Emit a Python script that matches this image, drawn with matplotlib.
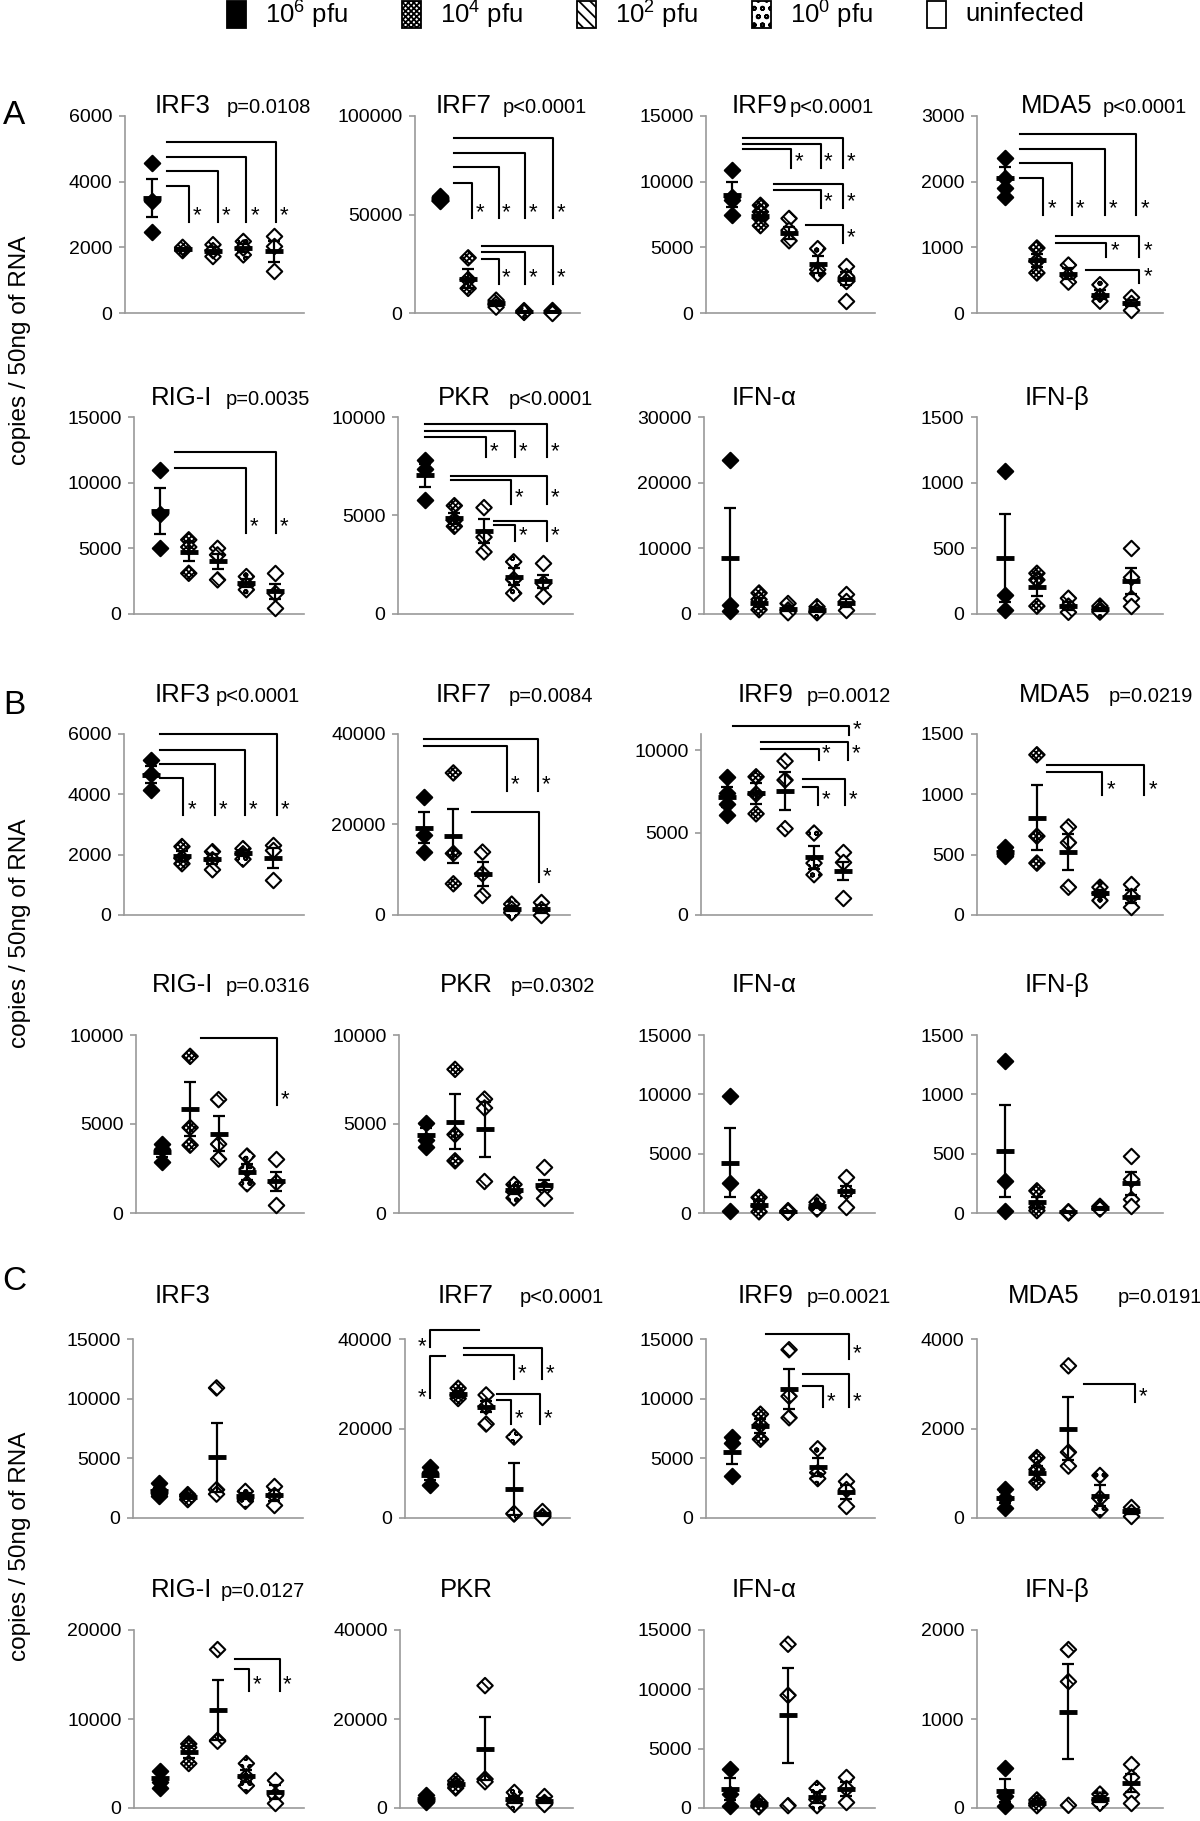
import numpy as np
import matplotlib
matplotlib.use("Agg")
from matplotlib import pyplot as plt
from matplotlib.patches import Rectangle

plt.rcParams["font.family"] = ["Liberation Sans", "DejaVu Sans"]
plt.rcParams["mathtext.fontset"] = "custom"
plt.rcParams["mathtext.rm"] = "Liberation Sans"
plt.rcParams["hatch.linewidth"] = 1.3

W, H = 1200, 1821

# groups
grupos = [r"10$^6$ pfu", r"10$^4$ pfu", r"10$^2$ pfu", r"10$^0$ pfu", "uninfected"]

# ---------------- A ----------------
A_IRF3 = [[4560, 3420, 2480], [1950, 1900, 2000], [2080, 1720, 1900], [2180, 1770, 1980], [2330, 2030, 1270]]
A_IRF3_MEAN = [3500, 1950, 1900, 1980, 1880]
A_IRF3_SEM = [590, 40, 100, 120, 320]
A_IRF3_BR = [(1.5, 2.2, 3870, 2770), (1.5, 3.15, 4340, 2770), (1.5, 4.1, 4740, 2770), (1.5, 5.07, 5200, 2770)]

A_IRF7 = [[59500, 57500, 57000], [28000, 17000, 12500], [6500, 4500, 3000], [1200, 600, 300], [1500, 600, 100]]
A_IRF7_MEAN = [58000, 17500, 5000, 700, 700]
A_IRF7_SEM = [800, 4700, 1200, 300, 400]
A_IRF7_BR = [(1.5, 2.15, 66000, 48000), (1.5, 3.1, 74000, 48000), (1.5, 4.05, 81000, 48000), (1.5, 5.05, 89000, 48000),
             (2.5, 3.1, 27600, 14700), (2.5, 4.05, 31200, 14700), (2.5, 5.05, 34100, 14700)]

A_IRF9 = [[10900, 8800, 8600, 7500], [8200, 7700, 7200, 6650], [7200, 6300, 5500], [4900, 3300, 3000], [3600, 2800, 2400, 950]]
A_IRF9_MEAN = [9000, 7400, 6100, 3700, 2600]
A_IRF9_SEM = [950, 320, 450, 650, 500]
A_IRF9_BR = [(1.4, 3.08, 12450, 11070), (1.4, 4.1, 12850, 11070), (1.4, 4.9, 13300, 11070),
             (2.47, 4.1, 9400, 8000), (2.47, 4.9, 9800, 8000), (3.6, 4.9, 6700, 5300)]

A_MDA5 = [[2360, 2050, 1900, 1760], [990, 790, 610], [730, 560, 470], [430, 250, 180], [250, 150, 50]]
A_MDA5_MEAN = [2060, 800, 600, 280, 150]
A_MDA5_SEM = [165, 100, 80, 70, 50]
A_MDA5_BR = [(1.45, 2.2, 2060, 1500), (1.45, 3.1, 2280, 1500), (1.45, 4.15, 2490, 1500), (1.45, 5.15, 2720, 1500),
             (2.6, 4.2, 1060, 860), (2.6, 5.25, 1180, 860), (3.55, 5.25, 660, 460)]

A_RIGI = [[11000, 7600, 5000], [5650, 5100, 3100], [5000, 4500, 2600], [2850, 2200, 1850], [3100, 1600, 450]]
A_RIGI_MEAN = [7850, 4750, 4000, 2350, 1720]
A_RIGI_SEM = [1750, 750, 550, 300, 540]
A_RIGI_BR = [(1.53, 4.0, 11100, 6200), (1.53, 5.03, 12300, 6200)]

A_PKR = [[7800, 7350, 5800], [5500, 4750, 4450], [5400, 3900, 3150], [2650, 1750, 1050], [2600, 1550, 900]]
A_PKR_MEAN = [7050, 4850, 4200, 1900, 1650]
A_PKR_SEM = [580, 300, 600, 450, 350]
A_PKR_BR = [(1.0, 3.07, 9000, 7950), (1.0, 4.05, 9300, 7950), (1.0, 5.13, 9660, 7950),
            (1.87, 3.9, 6800, 5600), (1.87, 5.13, 7000, 5600), (3.33, 4.03, 4500, 3700), (3.33, 5.13, 4700, 3700)]

A_IFNA = [[23500, 1300, 400], [3200, 2200, 650], [1600, 600, 200], [1100, 400, 200], [3000, 2000, 600]]
A_IFNA_MEAN = [8600, 1750, 800, 600, 1700]
A_IFNA_SEM = [7600, 700, 400, 250, 600]

A_IFNB = [[1090, 147, 33], [310, 260, 60], [120, 60, 13], [60, 33, 15], [500, 285, 120, 60]]
A_IFNB_MEAN = [423, 205, 63, 35, 253]
A_IFNB_SEM = [335, 70, 30, 12, 97]

# ---------------- B ----------------
B_IRF3 = [[5130, 4670, 4150], [2270, 1880, 1700], [2100, 1830, 1500], [2200, 2030, 1850], [2330, 2160, 1160]]
B_IRF3_MEAN = [4650, 1950, 1850, 2050, 1880]
B_IRF3_SEM = [280, 170, 170, 100, 330]
B_IRF3_BR = [(1.27, 2.05, 4540, 3320), (1.27, 3.07, 5000, 3320), (1.27, 4.07, 5480, 3320), (1.27, 5.1, 6000, 3320)]

B_IRF7 = [[26100, 17600, 13900], [31400, 13600, 6900], [13900, 9100, 4300], [2400, 1300, 500], [2800, 1300, 0]]
B_IRF7_MEAN = [19300, 17400, 9100, 1400, 1300]
B_IRF7_SEM = [3400, 6000, 2700, 550, 800]
B_IRF7_BR = [(1.0, 3.84, 37400, 27500), (1.0, 4.9, 38900, 27500), (2.64, 4.95, 22800, 7300)]

B_IRF9 = [[8400, 7400, 6750, 6050], [8400, 7350, 6150], [9350, 8200, 5250], [4980, 3150, 2450], [3850, 3200, 1050]]
B_IRF9_MEAN = [7150, 7400, 7550, 3500, 2700]
B_IRF9_SEM = [600, 650, 1150, 700, 550]
B_IRF9_BR = [(1.2, 5.2, 11500, 10940), (2.18, 4.16, 10100, 9450), (2.18, 5.18, 10500, 9450),
             (3.63, 4.13, 7800, 6700), (3.63, 5.08, 8250, 6700)]

B_MDA5 = [[560, 530, 500, 490], [1328, 653, 430], [730, 600, 230], [230, 180, 120], [258, 161, 64]]
B_MDA5_MEAN = [520, 808, 522, 180, 153]
B_MDA5_SEM = [20, 270, 146, 30, 55]
B_MDA5_BR = [(2.33, 4.07, 1189, 994), (2.33, 5.4, 1244, 994)]

B_RIGI = [[3870, 3590, 2840], [8800, 4800, 3810], [6370, 3870, 3030], [3200, 2470, 1640], [3030, 1730, 430]]
B_RIGI_MEAN = [3440, 5850, 4460, 2290, 1770]
B_RIGI_SEM = [300, 1500, 1000, 450, 520]
B_RIGI_BR = [(2.4, 5.05, 9850, 6040)]

B_PKR = [[5050, 4080, 3700], [8070, 4410, 2930], [6400, 5900, 1770], [1600, 1200, 850], [2580, 1390, 850]]
B_PKR_MEAN = [4370, 5140, 4700, 1290, 1580]
B_PKR_SEM = [390, 1520, 1550, 220, 300]

B_IFNA = [[9900, 2570, 200], [1310, 600, 100], [200, 60, 100], [900, 470, 340], [3000, 1870, 470]]
B_IFNA_MEAN = [4250, 670, 120, 570, 1870]
B_IFNA_SEM = [2900, 350, 40, 170, 420]

B_IFNB = [[1277, 271, 20], [187, 47, 20], [11, 0, 6], [56, 39, 34], [480, 285, 117, 61]]
B_IFNB_MEAN = [522, 89, 6, 43, 249]
B_IFNB_SEM = [385, 50, 4, 7, 96]

# ---------------- C ----------------
C_IRF3 = [[2930, 2370, 2050, 1820], [1960, 1820, 1540], [10900, 2370, 2000], [2230, 1540, 1400], [2650, 1960, 1120]]
C_IRF3_MEAN = [2300, 1800, 5100, 1850, 1900]
C_IRF3_SEM = [250, 120, 2900, 250, 450]

C_IRF7 = [[11500, 10300, 7300], [29000, 27500, 26700], [27500, 24900, 21000], [18100, 900, 1000], [1600, 500, 150]]
C_IRF7_MEAN = [9700, 27700, 24900, 6500, 800]
C_IRF7_SEM = [1250, 700, 1300, 5800, 400]
C_IRF7_BR = [(1.0, 2.74, 41900, 38200, "L"), (1.0, 1.53, 36250, 26900, "L"),
             (2.2, 4.0, 36500, 31000), (2.2, 5.0, 37970, 31000), (3.4, 3.9, 26400, 21000), (3.4, 4.93, 27700, 21000)]

C_IRF9 = [[6800, 6300, 3500], [8700, 7800, 6600], [14100, 10200, 8400], [5800, 3800, 3300], [3100, 2400, 1000]]
C_IRF9_MEAN = [5500, 7700, 10800, 4300, 2200]
C_IRF9_SEM = [1000, 600, 1700, 750, 600]
C_IRF9_BR = [(2.2, 5.1, 15400, 13300), (3.5, 4.2, 11100, 9300), (3.5, 5.1, 12060, 9300)]

C_MDA5 = [[650, 440, 230], [1350, 1080, 800], [3400, 1470, 1160], [950, 440, 180], [250, 130, 50]]
C_MDA5_MEAN = [450, 1000, 2000, 500, 150]
C_MDA5_SEM = [120, 160, 700, 230, 60]
C_MDA5_BR = [(3.5, 5.1, 3000, 2600)]

C_RIGI = [[4200, 2900, 2300], [7200, 6800, 5000], [17800, 7600, 7500], [5000, 3500, 2500], [3200, 1500, 600]]
C_RIGI_MEAN = [3400, 6300, 11000, 3600, 1800]
C_RIGI_SEM = [550, 650, 3400, 700, 750]
C_RIGI_BR = [(3.6, 4.1, 15600, 13200), (3.6, 5.15, 16750, 13200)]

C_PKR = [[2900, 2100, 1300], [6100, 5300, 4500], [27500, 6500, 5900], [3500, 1600, 800], [2700, 1300, 800]]
C_PKR_MEAN = [2100, 5500, 13300, 2000, 1600]
C_PKR_SEM = [450, 450, 7100, 800, 550]

C_IFNA = [[3300, 1200, 200], [500, 200, 100], [13800, 9500, 200], [1650, 700, 200], [2600, 1650, 500]]
C_IFNA_MEAN = [1600, 300, 7800, 900, 1600]
C_IFNA_SEM = [900, 120, 4000, 450, 600]

C_IFNB = [[450, 130, 26], [90, 50, 26], [1780, 1420, 30], [156, 90, 52], [500, 350, 156, 52]]
C_IFNB_MEAN = [195, 60, 1080, 100, 285]
C_IFNB_SEM = [130, 20, 534, 30, 100]

# estilos de los grupos
CARA = ["black", "white", "white", "white", "white"]
TRAMA = [None, "xxxxxx", "\\\\\\", "oo", None]

# filas (px): tope y base del eje, linea base del titulo
FILAS = [(116, 313, 113), (417, 614, 405), (734, 915, 702), (1035, 1213, 992), (1339, 1518, 1303), (1630, 1808, 1597)]

# (fila, izq, der, gen, x_gen, pval, x_p, ymax, paso, puntos, media, sem, corchetes)
PANELES = [
    (0, 125, 304, "IRF3", 155, "p=0.0108", 227, 6000, 2000, A_IRF3, A_IRF3_MEAN, A_IRF3_SEM, A_IRF3_BR),
    (0, 415, 580, "IRF7", 436, "p<0.0001", 503, 100000, 50000, A_IRF7, A_IRF7_MEAN, A_IRF7_SEM, A_IRF7_BR),
    (0, 706, 875, "IRF9", 732, "p<0.0001", 790, 15000, 5000, A_IRF9, A_IRF9_MEAN, A_IRF9_SEM, A_IRF9_BR),
    (0, 977, 1163, "MDA5", 1021, "p<0.0001", 1103, 3000, 1000, A_MDA5, A_MDA5_MEAN, A_MDA5_SEM, A_MDA5_BR),
    (1, 134, 304, "RIG-I", 151, "p=0.0035", 226, 15000, 5000, A_RIGI, A_RIGI_MEAN, A_RIGI_SEM, A_RIGI_BR),
    (1, 398, 573, "PKR", 438, "p<0.0001", 509, 10000, 5000, A_PKR, A_PKR_MEAN, A_PKR_SEM, A_PKR_BR),
    (1, 704, 875, "IFN-α", 732, None, 0, 30000, 10000, A_IFNA, A_IFNA_MEAN, A_IFNA_SEM, []),
    (1, 977, 1163, "IFN-β", 1025, None, 0, 1500, 500, A_IFNB, A_IFNB_MEAN, A_IFNB_SEM, []),
    (2, 124, 304, "IRF3", 155, "p<0.0001", 216, 6000, 2000, B_IRF3, B_IRF3_MEAN, B_IRF3_SEM, B_IRF3_BR),
    (2, 398, 570, "IRF7", 436, "p=0.0084", 509, 40000, 20000, B_IRF7, B_IRF7_MEAN, B_IRF7_SEM, B_IRF7_BR),
    (2, 701, 872, "IRF9", 738, "p=0.0012", 807, 11000, 5000, B_IRF9, B_IRF9_MEAN, B_IRF9_SEM, B_IRF9_BR),
    (2, 977, 1163, "MDA5", 1019, "p=0.0219", 1109, 1500, 500, B_MDA5, B_MDA5_MEAN, B_MDA5_SEM, B_MDA5_BR),
    (3, 136, 304, "RIG-I", 152, "p=0.0316", 226, 10000, 5000, B_RIGI, B_RIGI_MEAN, B_RIGI_SEM, B_RIGI_BR),
    (3, 399, 573, "PKR", 440, "p=0.0302", 511, 10000, 5000, B_PKR, B_PKR_MEAN, B_PKR_SEM, []),
    (3, 704, 875, "IFN-α", 732, None, 0, 15000, 5000, B_IFNA, B_IFNA_MEAN, B_IFNA_SEM, []),
    (3, 977, 1163, "IFN-β", 1025, None, 0, 1500, 500, B_IFNB, B_IFNB_MEAN, B_IFNB_SEM, []),
    (4, 133, 303, "IRF3", 155, None, 0, 15000, 5000, C_IRF3, C_IRF3_MEAN, C_IRF3_SEM, []),
    (4, 405, 570, "IRF7", 438, "p<0.0001", 520, 40000, 20000, C_IRF7, C_IRF7_MEAN, C_IRF7_SEM, C_IRF7_BR),
    (4, 706, 875, "IRF9", 738, "p=0.0021", 807, 15000, 5000, C_IRF9, C_IRF9_MEAN, C_IRF9_SEM, C_IRF9_BR),
    (4, 977, 1163, "MDA5", 1008, "p=0.0191", 1118, 4000, 2000, C_MDA5, C_MDA5_MEAN, C_MDA5_SEM, C_MDA5_BR),
    (5, 134, 304, "RIG-I", 151, "p=0.0127", 221, 20000, 10000, C_RIGI, C_RIGI_MEAN, C_RIGI_SEM, C_RIGI_BR),
    (5, 400, 573, "PKR", 440, None, 0, 40000, 20000, C_PKR, C_PKR_MEAN, C_PKR_SEM, []),
    (5, 704, 875, "IFN-α", 732, None, 0, 15000, 5000, C_IFNA, C_IFNA_MEAN, C_IFNA_SEM, []),
    (5, 977, 1163, "IFN-β", 1025, None, 0, 2000, 1000, C_IFNB, C_IFNB_MEAN, C_IFNB_SEM, []),
]

GRIS = "#9a9a9a"


def corchete(ax, br, ymax):
    x0, x1, ytop, ybot = br[:4]
    lado = br[4] if len(br) > 4 else "R"
    if lado == "R":
        ax.plot([x0, x1, x1], [ytop, ytop, ybot], color="black", lw=1.5, clip_on=False, zorder=6)
        ax.text(x1 + 0.27, ybot + 0.03 * ymax, "*", fontsize=16, ha="center", va="center", clip_on=False)
    else:
        ax.plot([x1, x0, x0], [ytop, ytop, ybot], color="black", lw=1.5, clip_on=False, zorder=6)
        ax.text(x0 - 0.3, ybot, "*", fontsize=16, ha="center", va="center", clip_on=False)


def panel(fig, p):
    fila, izq, der, gen, xg, pval, xp, ymax, paso, pts, media, sem, brs = p
    top, bot, base = FILAS[fila]
    ax = fig.add_axes([izq / W, 1 - bot / H, (der - izq) / W, (bot - top) / H])
    for i, vals in enumerate(pts):
        xs = np.full(len(vals), i + 1.0)
        ax.scatter(xs, vals, marker="D", s=62, facecolor=CARA[i], edgecolor="black",
                   hatch=TRAMA[i], linewidths=1.5, zorder=3, clip_on=False)
    xm = np.arange(1, 6)
    ax.errorbar(xm, media, yerr=sem, fmt="none", ecolor="black", elinewidth=1.6,
                capsize=4, capthick=1.6, zorder=4)
    ax.plot(xm, media, linestyle="none", marker="_", ms=13, mew=3.5, color="black", zorder=5)
    for br in brs:
        corchete(ax, br, ymax)
    ax.set_xlim(0.1, 6.0)
    ax.set_ylim(0, ymax)
    ax.set_yticks(np.arange(0, ymax + 1, paso))
    ax.set_yticklabels([f"{int(v)}" for v in np.arange(0, ymax + 1, paso)])
    ax.set_xticks([])
    for s in ["top", "right"]:
        ax.spines[s].set_visible(False)
    for s in ["left", "bottom"]:
        ax.spines[s].set_color(GRIS)
        ax.spines[s].set_linewidth(1.2)
    ax.tick_params(axis="y", colors=GRIS, labelcolor="black", labelsize=14, length=4, width=1.2, pad=5)
    ax.patch.set_alpha(0)
    fig.text(xg / W, 1 - base / H, gen, fontsize=18.5, ha="left", va="baseline")
    if pval:
        fig.text(xp / W, 1 - base / H, pval, fontsize=14.5, ha="left", va="baseline")


fig = plt.figure(figsize=(12, 18.21), dpi=100)

for p in PANELES:
    panel(fig, p)

# leyenda superior
for i, lab in enumerate(grupos):
    x = 227 + 175 * i
    fig.patches.append(Rectangle((x / W, 1 - 28 / H), 19 / W, 27 / H, transform=fig.transFigure,
                                 facecolor=CARA[i], edgecolor="black", hatch=TRAMA[i], linewidth=1.3))
    fig.text((x + 38) / W, 1 - 14 / H, lab, fontsize=18.5, ha="left", va="center")

# etiquetas de seccion y eje y
for letra, yl, yc in [("A", 115, 350), ("B", 705, 933), ("C", 1282, 1546)]:
    fig.text(14 / W, 1 - yl / H, letra, fontsize=24, ha="center", va="center")
    fig.text(20 / W, 1 - yc / H, "copies / 50ng of RNA", fontsize=17.5, rotation=90, ha="center", va="center")

fig.savefig("out.png", dpi=100)
